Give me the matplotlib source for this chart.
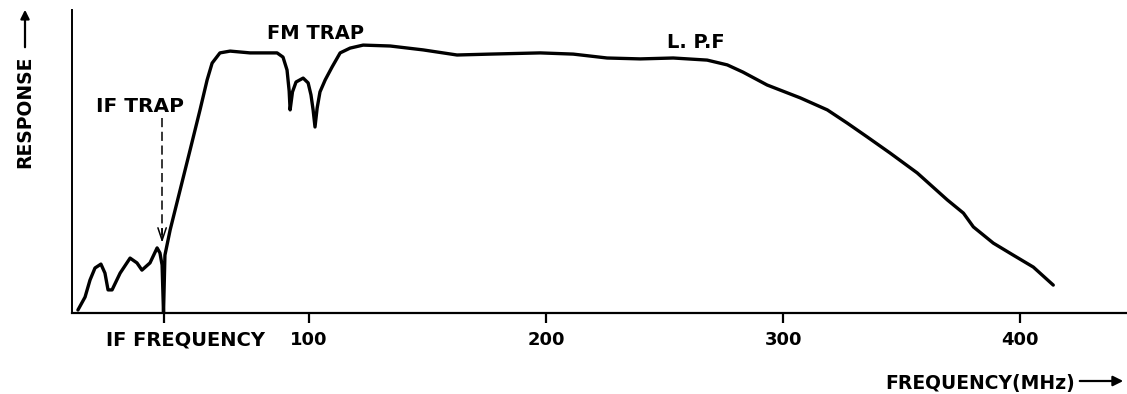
import matplotlib
matplotlib.use('Agg')
import matplotlib.pyplot as plt
from matplotlib.patches import FancyArrowPatch

# response curve (MHz, relative response)
freq = [2.5, 5.5, 7.6, 9.7, 12.2, 13.9, 15.2, 16.9, 20.3, 24.5, 27.4, 29.5, 32.9,
        35.9, 37.1, 38.0, 38.6, 39.2, 41.4, 45.6, 49.8, 54.0, 57.0, 59.1, 62.4,
        66.7, 75.1, 86.5, 89.0, 90.7, 91.6, 92.0, 93.0, 94.5, 97.5, 99.6, 100.8,
        101.7, 102.5, 103.4, 104.6, 106.8, 109.7, 113.1, 117.3, 122.8, 134.2,
        148.1, 162.4, 176.4, 197.5, 211.4, 225.7, 239.7, 253.6, 267.9, 276.4,
        283.0, 293.2, 307.2, 318.6, 327.0, 335.4, 345.1, 356.5, 369.2, 376.0,
        380.2, 388.6, 397.0, 405.5, 413.9]
resp = [1.0, 5.3, 11.0, 15.0, 16.3, 13.3, 7.7, 7.7, 13.3, 18.3, 16.7, 14.3, 16.7,
        21.7, 20.0, 16.0, 0.0, 19.3, 27.7, 41.0, 54.3, 67.7, 77.7, 83.3, 86.7,
        87.3, 86.7, 86.7, 85.3, 81.0, 74.0, 67.7, 73.7, 77.0, 78.3, 76.7, 72.7,
        67.7, 62.0, 68.3, 73.7, 77.7, 82.0, 86.7, 88.3, 89.3, 89.0,
        87.7, 86.0, 86.3, 86.7, 86.3, 85.0, 84.7, 85.0, 84.3, 82.7,
        80.3, 76.0, 71.7, 67.7, 63.3, 58.7, 53.3, 46.7, 37.7, 33.3,
        28.7, 23.3, 19.3, 15.3, 9.3]

if_freq = 38.6
tick_pos = [100, 200, 300, 400]
tick_lab = ['100', '200', '300', '400']

fig = plt.figure(figsize=(11.27, 3.94), dpi=100)
ax = fig.add_axes([72 / 1127, 81 / 394, 1055 / 1127, 303 / 394])
ax.plot(freq, resp, color='black', lw=2.4, solid_joinstyle='round', solid_capstyle='round')

ax.set_xlim(0, 445)
ax.set_ylim(0, 101)
for s in ['top', 'right']:
    ax.spines[s].set_visible(False)
ax.spines['left'].set_linewidth(1.4)
ax.spines['bottom'].set_linewidth(1.6)
ax.set_yticks([])
ax.set_xticks([if_freq] + tick_pos)
ax.set_xticklabels([''] + tick_lab, fontsize=13, fontweight='bold')
ax.tick_params(axis='x', direction='out', length=7, width=1.6, pad=6)

ax.text(14.3, -9, 'IF FREQUENCY', fontsize=14, fontweight='bold', ha='left', va='center')

# IF trap: dashed line with an open arrow head
ax.text(28.5, 68.7, 'IF TRAP', fontsize=14.5, fontweight='bold', ha='center', va='center')
ax.plot([if_freq - 0.6, if_freq - 0.6], [65, 26], color='black', lw=1.1, ls=(0, (6, 3)))
ax.annotate('', xy=(if_freq - 0.6, 22.5), xytext=(if_freq - 0.6, 29),
            arrowprops=dict(arrowstyle='->,head_length=0.9,head_width=0.3',
                            color='black', lw=1.1))

ax.text(102.5, 93.3, 'FM TRAP', fontsize=14, fontweight='bold', ha='center', va='center')
ax.text(263.3, 90.3, 'L. P.F', fontsize=14, fontweight='bold', ha='center', va='center')

# axis titles with hand-drawn arrows
fig.text(1075 / 1127, 1 - 383 / 394, 'FREQUENCY(MHz)', fontsize=13.5,
         fontweight='bold', ha='right', va='center')
fig.patches.append(FancyArrowPatch(
    (1077 / 1127, 1 - 381 / 394), (1126 / 1127, 1 - 381 / 394),
    transform=fig.transFigure, arrowstyle='-|>', mutation_scale=15,
    color='black', lw=1.6))
fig.text(25 / 1127, 1 - 112 / 394, 'RESPONSE', fontsize=13.5, fontweight='bold',
         rotation=90, ha='center', va='center')
fig.patches.append(FancyArrowPatch(
    (25 / 1127, 1 - 50 / 394), (25 / 1127, 1 - 7 / 394),
    transform=fig.transFigure, arrowstyle='-|>', mutation_scale=13,
    color='black', lw=1.6))

plt.savefig('out.png', dpi=100)
